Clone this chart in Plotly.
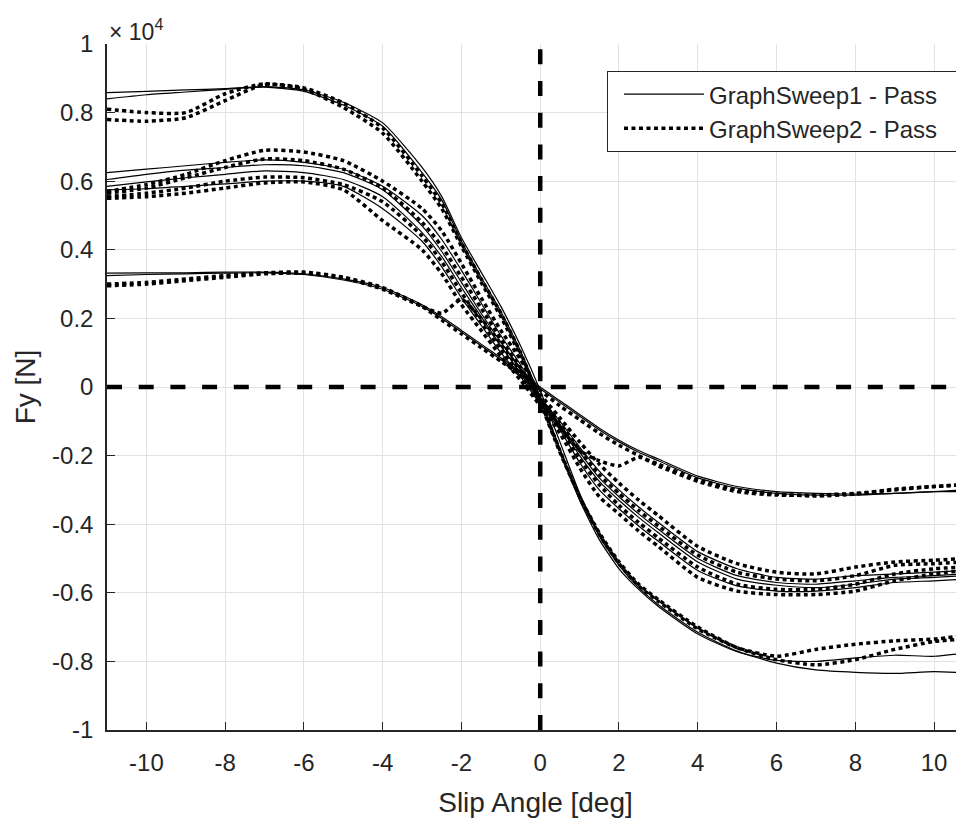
import plotly.graph_objects as go

# Slip angle sample points [deg]
X_GRID = [-11, -10, -9, -8, -7, -6, -5, -4, -3, -2.5, -2, -1.5, -1, -0.5, 0,
          0.5, 1, 1.5, 2, 2.5, 3, 4, 5, 6, 7, 8, 9, 10, 10.76]

# Fy values in units of 1e4 N
# --- GraphSweep1 (solid) ---
S1A = [0.858, 0.862, 0.866, 0.870, 0.876, 0.866, 0.830, 0.770, 0.640, 0.555, 0.435, 0.335, 0.235, 0.120, -0.010,
       -0.160, -0.310, -0.435, -0.520, -0.585, -0.635, -0.715, -0.770, -0.805, -0.825, -0.832, -0.835, -0.830, -0.833]
S1B = [0.840, 0.852, 0.860, 0.868, 0.874, 0.862, 0.822, 0.760, 0.625, 0.545, 0.425, 0.320, 0.220, 0.105, -0.030,
       -0.180, -0.330, -0.445, -0.530, -0.590, -0.640, -0.720, -0.772, -0.797, -0.800, -0.790, -0.782, -0.785, -0.776]
S2A = [0.625, 0.635, 0.645, 0.655, 0.662, 0.655, 0.635, 0.585, 0.500, 0.430, 0.340, 0.245, 0.150, 0.065, -0.030,
       -0.100, -0.175, -0.245, -0.300, -0.350, -0.395, -0.480, -0.530, -0.555, -0.560, -0.550, -0.545, -0.540, -0.535]
S2B = [0.605, 0.620, 0.632, 0.640, 0.648, 0.645, 0.625, 0.575, 0.470, 0.395, 0.305, 0.215, 0.130, 0.050, -0.040,
       -0.110, -0.190, -0.265, -0.320, -0.370, -0.415, -0.500, -0.550, -0.570, -0.575, -0.565, -0.555, -0.550, -0.545]
S2C = [0.585, 0.598, 0.610, 0.620, 0.630, 0.625, 0.605, 0.555, 0.450, 0.380, 0.290, 0.205, 0.120, 0.040, -0.045,
       -0.115, -0.200, -0.275, -0.330, -0.380, -0.425, -0.510, -0.560, -0.578, -0.585, -0.575, -0.560, -0.555, -0.550]
S2D = [0.575, 0.578, 0.585, 0.592, 0.600, 0.600, 0.585, 0.520, 0.425, 0.350, 0.260, 0.180, 0.100, 0.030, -0.050,
       -0.125, -0.220, -0.300, -0.355, -0.405, -0.450, -0.535, -0.580, -0.595, -0.595, -0.585, -0.570, -0.565, -0.560]
S3A = [0.332, 0.333, 0.333, 0.335, 0.335, 0.330, 0.315, 0.290, 0.240, 0.205, 0.165, 0.125, 0.085, 0.045, 0.000,
       -0.040, -0.080, -0.120, -0.155, -0.185, -0.210, -0.260, -0.290, -0.305, -0.310, -0.312, -0.310, -0.305, -0.300]
S3B = [0.325, 0.328, 0.330, 0.332, 0.333, 0.328, 0.312, 0.285, 0.235, 0.200, 0.160, 0.120, 0.080, 0.040, -0.005,
       -0.045, -0.085, -0.125, -0.160, -0.190, -0.215, -0.265, -0.295, -0.310, -0.315, -0.315, -0.310, -0.305, -0.305]

# --- GraphSweep2 (dotted) ---
D1A = [0.810, 0.800, 0.800, 0.855, 0.884, 0.868, 0.815, 0.740, 0.600, 0.520, 0.410, 0.305, 0.205, 0.090, -0.045,
       -0.190, -0.320, -0.430, -0.515, -0.580, -0.625, -0.705, -0.760, -0.785, -0.765, -0.750, -0.740, -0.735, -0.725]
D1B = [0.780, 0.775, 0.785, 0.835, 0.882, 0.872, 0.828, 0.755, 0.615, 0.535, 0.420, 0.315, 0.215, 0.100, -0.040,
       -0.185, -0.320, -0.425, -0.510, -0.575, -0.620, -0.700, -0.760, -0.795, -0.810, -0.795, -0.765, -0.742, -0.735]
D2A = [0.570, 0.590, 0.620, 0.660, 0.690, 0.685, 0.660, 0.600, 0.520, 0.455, 0.360, 0.260, 0.165, 0.080, -0.020,
       -0.090, -0.160, -0.225, -0.280, -0.330, -0.375, -0.465, -0.515, -0.540, -0.545, -0.525, -0.510, -0.505, -0.500]
D2B = [0.565, 0.580, 0.610, 0.640, 0.665, 0.660, 0.635, 0.580, 0.480, 0.410, 0.320, 0.230, 0.140, 0.055, -0.035,
       -0.105, -0.185, -0.255, -0.310, -0.360, -0.405, -0.490, -0.540, -0.560, -0.565, -0.550, -0.520, -0.515, -0.510]
D2C = [0.555, 0.565, 0.580, 0.600, 0.612, 0.610, 0.590, 0.540, 0.440, 0.365, 0.275, 0.190, 0.110, 0.035, -0.050,
       -0.120, -0.210, -0.285, -0.345, -0.395, -0.440, -0.525, -0.575, -0.590, -0.590, -0.575, -0.545, -0.530, -0.525]
D2D = [0.550, 0.555, 0.565, 0.580, 0.595, 0.598, 0.575, 0.485, 0.400, 0.330, 0.240, 0.165, 0.090, 0.020, -0.055,
       -0.135, -0.235, -0.320, -0.370, -0.420, -0.465, -0.555, -0.595, -0.605, -0.605, -0.595, -0.565, -0.545, -0.535]
D3A = [0.300, 0.305, 0.315, 0.325, 0.333, 0.335, 0.320, 0.290, 0.235, 0.195, 0.155, 0.115, 0.075, 0.035, -0.010,
       -0.055, -0.095, -0.135, -0.170, -0.200, -0.230, -0.275, -0.305, -0.315, -0.315, -0.310, -0.300, -0.290, -0.285]
D3B = [0.295, 0.300, 0.310, 0.320, 0.330, 0.332, 0.318, 0.285, 0.235, 0.215, 0.255, 0.200, 0.125, 0.050, -0.030,
       -0.115, -0.185, -0.215, -0.230, -0.205, -0.225, -0.270, -0.300, -0.312, -0.318, -0.312, -0.298, -0.290, -0.285]

SWEEP1 = [S1A, S1B, S2A, S2B, S2C, S2D, S3A, S3B]
SWEEP2 = [D1A, D1B, D2A, D2B, D2C, D2D, D3A, D3B]
FY_SCALE = 1e4

X_TICK_VALUES = [-10, -8, -6, -4, -2, 0, 2, 4, 6, 8, 10]
X_TICK_LABELS = ["-10", "-8", "-6", "-4", "-2", "0", "2", "4", "6", "8", "10"]
Y_TICK_VALUES = [-1.0, -0.8, -0.6, -0.4, -0.2, 0.0, 0.2, 0.4, 0.6, 0.8, 1.0]
Y_TICK_LABELS = ["-1", "-0.8", "-0.6", "-0.4", "-0.2", "0", "0.2", "0.4", "0.6", "0.8", "1"]

FONT = "Liberation Sans, Arial, Helvetica, sans-serif"
TXT = "#262626"
PAD = "\u00a0\u00a0"  # trailing legend padding

fig = go.Figure()
for i, ys in enumerate(SWEEP1):
    fig.add_trace(go.Scatter(
        x=X_GRID, y=[v * FY_SCALE for v in ys], mode="lines",
        line=dict(color="black", width=1.2, shape="spline", smoothing=0.6),
        name="GraphSweep1 - Pass" + PAD, legendgroup="s1", showlegend=(i == 0),
    ))
for i, ys in enumerate(SWEEP2):
    fig.add_trace(go.Scatter(
        x=X_GRID, y=[v * FY_SCALE for v in ys], mode="lines",
        line=dict(color="black", width=3.5, dash="4px,3.5px", shape="spline", smoothing=0.6),
        name="GraphSweep2 - Pass" + PAD, legendgroup="s2", showlegend=(i == 0),
    ))

fig.add_hline(y=0, line=dict(color="black", width=4.5, dash="15px,16.7px"))
fig.add_vline(x=0, line=dict(color="black", width=4.5, dash="15px,16.7px"))

# page body has an 8px margin: figure is 956x812 placed at (8, 8)
fig.update_layout(
    width=956, height=812, autosize=False,
    margin=dict(l=99, r=0, t=36, b=90, autoexpand=False),
    paper_bgcolor="white", plot_bgcolor="white",
    font=dict(family=FONT, color=TXT, size=24),
    showlegend=True,
    legend=dict(
        x=0.9918, xanchor="right", y=0.9606, yanchor="top",
        bgcolor="white", bordercolor=TXT, borderwidth=1,
        font=dict(size=24, color=TXT, family=FONT),
        itemwidth=80, tracegroupgap=0, indentation=11,
    ),
    annotations=[dict(
        x=0, y=1, xref="paper", yref="paper", xanchor="left", yanchor="bottom",
        text="× 10<sup>4</sup>", showarrow=False, font=dict(size=23, color=TXT, family=FONT),
        xshift=0, yshift=-3,
    )],
)
fig.update_xaxes(
    range=[-11, 10.76], tickvals=X_TICK_VALUES, ticktext=X_TICK_LABELS,
    ticks="inside", ticklen=8, tickwidth=1.2,
    tickcolor=TXT, showline=True, linecolor=TXT, linewidth=1.5, mirror=False,
    showgrid=True, gridcolor="#e2e2e2", gridwidth=1, zeroline=False, automargin=False,
    ticklabelstandoff=10, tickfont=dict(size=24),
    title=dict(text="Slip Angle [deg]", font=dict(size=28), standoff=18),
)
fig.update_yaxes(
    range=[-1.0 * FY_SCALE, 1.0 * FY_SCALE],
    tickvals=[v * FY_SCALE for v in Y_TICK_VALUES], ticktext=Y_TICK_LABELS,
    ticks="inside", ticklen=8, tickwidth=1.2, tickcolor=TXT,
    showline=True, linecolor=TXT, linewidth=1.5, mirror=False,
    showgrid=True, gridcolor="#e2e2e2", gridwidth=1, zeroline=False, automargin=False,
    ticklabelstandoff=7, tickfont=dict(size=24),
    title=dict(text="Fy [N]", font=dict(size=28), standoff=8),
)

fig.write_html("out.html")
